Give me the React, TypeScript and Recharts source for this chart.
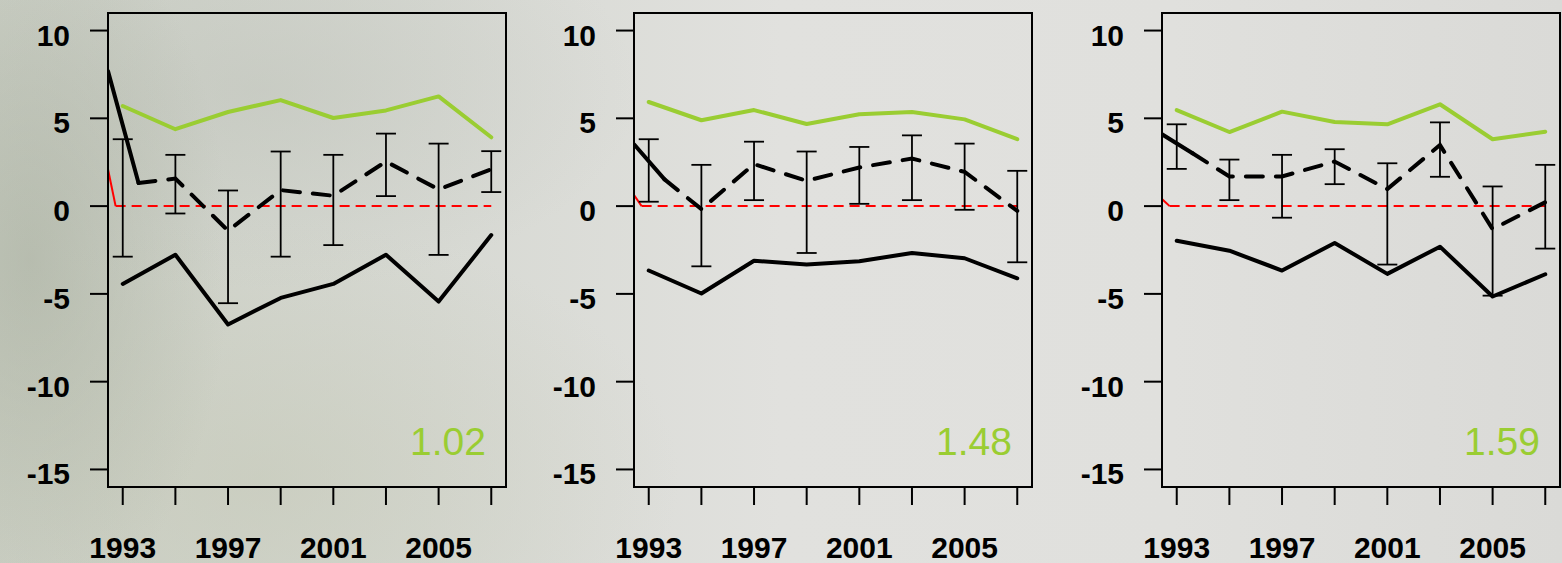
import React from "react"
import { LineChart, Line, XAxis, YAxis, ErrorBar, ReferenceArea } from "recharts"

const years = [1993, 1995, 1997, 1999, 2001, 2003, 2005, 2007]
const labeledYears = [1993, 1997, 2001, 2005]
const yTicks = [-15, -10, -5, 0, 5, 10]
const xDomain: [number, number] = [1992.44, 2007.56]
const yDomain: [number, number] = [-16, 11]

// the mean line starts off the left edge and its first point sits just after 1993
const meanYears = [1993.6, 1995, 1997, 1999, 2001, 2003, 2005, 2007]
const leadYear = 1992.44
const redYears = [1992.73, 2007]
const redValues = [0, 0]

// panel 1
const green1 = [5.7, 4.38, 5.36, 6.04, 5.02, 5.45, 6.25, 3.92]
const low1 = [-4.43, -2.77, -6.74, -5.23, -4.43, -2.77, -5.44, -1.65]
const mean1 = [1.32, 1.57, -1.4, 0.91, 0.59, 2.54, 0.95, 2.1]
const meanLead1 = 7.69
const errHi1 = [3.81, 2.92, 0.89, 3.11, 2.92, 4.13, 3.56, 3.13]
const errLo1 = [-2.88, -0.42, -5.53, -2.88, -2.22, 0.57, -2.78, 0.8]
const redLead1 = 2.1

// panel 2
const green2 = [5.93, 4.89, 5.47, 4.68, 5.23, 5.36, 4.94, 3.81]
const low2 = [-3.67, -4.98, -3.11, -3.32, -3.14, -2.67, -2.97, -4.11]
const mean2 = [1.52, -0.17, 2.39, 1.44, 2.2, 2.71, 1.95, -0.27]
const meanLead2 = 3.52
const errHi2 = [3.81, 2.35, 3.67, 3.11, 3.37, 4.03, 3.56, 2.01]
const errLo2 = [0.25, -3.43, 0.34, -2.67, 0.13, 0.34, -0.21, -3.2]
const redLead2 = 0.63

// panel 3
const green3 = [5.47, 4.22, 5.38, 4.79, 4.66, 5.8, 3.81, 4.24]
const low3 = [-1.97, -2.54, -3.67, -2.1, -3.86, -2.31, -5.15, -3.88]
const mean3 = [3.01, 1.69, 1.69, 2.54, 0.97, 3.48, -1.31, 0.22]
const meanLead3 = 4.09
const errHi3 = [4.66, 2.65, 2.92, 3.24, 2.44, 4.77, 1.12, 2.35]
const errLo3 = [2.12, 0.34, -0.66, 1.25, -3.33, 1.67, -5.1, -2.42]
const redLead3 = 0.4

const GREEN = "#9ACD32"
const FONT = "'Liberation Sans', Arial, sans-serif"
const LW = 4

interface PanelProps {
  left: number
  green: number[]
  low: number[]
  mean: number[]
  meanLead: number
  errHi: number[]
  errLo: number[]
  redLead: number
  label: string
}

const XTick = (props: any) => {
  const { x, y, payload } = props
  if (!labeledYears.includes(payload.value)) return <g />
  return (
    <text x={x} y={y + 53} textAnchor="middle" fontFamily={FONT} fontWeight="bold" fontSize={30} fill="#000">
      {payload.value}
    </text>
  )
}

const YTick = (props: any) => {
  const { x, y, payload } = props
  return (
    <text x={x} y={y + 15} textAnchor="end" fontFamily={FONT} fontWeight="bold" fontSize={30} fill="#000">
      {payload.value}
    </text>
  )
}

function Panel({ left, green, low, mean, meanLead, errHi, errLo, redLead, label }: PanelProps) {
  const greenData = years.map((year, i) => ({ year, v: green[i] }))
  const lowData = years.map((year, i) => ({ year, v: low[i] }))
  const meanData = meanYears.map((year, i) => ({ year, v: mean[i] }))
  const leadData = [
    { year: leadYear, v: meanLead },
    { year: meanYears[0], v: mean[0] },
  ]
  const redLeadData = [
    { year: leadYear, v: redLead },
    { year: redYears[0], v: redValues[0] },
  ]
  const redData = redYears.map((year, i) => ({ year, v: redValues[i] }))
  const errData = years.map((year, i) => {
    const mid = (errHi[i] + errLo[i]) / 2
    return { year, v: mid, err: [mid - errLo[i], errHi[i] - mid] }
  })

  return (
    <div style={{ position: "absolute", left, top: 0, width: 526, height: 563 }}>
      <LineChart width={526} height={563} margin={{ top: 13, right: 20, bottom: 0, left: 0 }}>
        <XAxis
          dataKey="year"
          type="number"
          domain={xDomain}
          allowDataOverflow
          ticks={years}
          interval={0}
          height={76}
          tickSize={18}
          tickMargin={0}
          axisLine={{ stroke: "#000", strokeWidth: 2 }}
          tickLine={{ stroke: "#000", strokeWidth: 2 }}
          tick={XTick}
        />
        <YAxis
          type="number"
          domain={yDomain}
          allowDataOverflow
          ticks={yTicks}
          interval={0}
          width={108}
          tickSize={18}
          tickMargin={20}
          axisLine={{ stroke: "#000", strokeWidth: 2 }}
          tickLine={{ stroke: "#000", strokeWidth: 2 }}
          tick={YTick}
        />
        <ReferenceArea
          x1={xDomain[0]}
          x2={xDomain[1]}
          y1={yDomain[0]}
          y2={yDomain[1]}
          fill="none"
          stroke="#000"
          strokeWidth={2}
          ifOverflow="visible"
        />
        <Line data={redLeadData} dataKey="v" stroke="#ff0000" strokeWidth={2} dot={false} activeDot={false} isAnimationActive={false} />
        <Line data={redData} dataKey="v" stroke="#ff0000" strokeWidth={2} strokeDasharray="10 6" dot={false} activeDot={false} isAnimationActive={false} />
        <Line data={errData} dataKey="v" stroke="none" dot={false} activeDot={false} isAnimationActive={false}>
          <ErrorBar dataKey="err" direction="y" width={10} stroke="#000" strokeWidth={1.8} isAnimationActive={false} />
        </Line>
        <Line data={greenData} dataKey="v" stroke={GREEN} strokeWidth={LW} strokeLinecap="round" strokeLinejoin="round" dot={false} activeDot={false} isAnimationActive={false} />
        <Line data={lowData} dataKey="v" stroke="#000" strokeWidth={LW} strokeLinecap="round" strokeLinejoin="round" dot={false} activeDot={false} isAnimationActive={false} />
        <Line data={leadData} dataKey="v" stroke="#000" strokeWidth={LW} strokeLinecap="round" dot={false} activeDot={false} isAnimationActive={false} />
        <Line data={meanData} dataKey="v" stroke="#000" strokeWidth={LW} strokeDasharray="17 13" strokeLinecap="round" dot={false} activeDot={false} isAnimationActive={false} />
      </LineChart>
      <svg width={526} height={563} style={{ position: "absolute", left: 0, top: 0, pointerEvents: "none" }}>
        <text x={486} y={455} textAnchor="end" fontFamily={FONT} fontSize={39} fill={GREEN}>
          {label}
        </text>
      </svg>
    </div>
  )
}

export default function App() {
  return (
    <div
      style={{
        position: "fixed",
        left: 0,
        top: 0,
        width: 1562,
        height: 563,
        overflow: "hidden",
        background:
          "radial-gradient(ellipse 200px 360px at 30px 260px, rgba(165,172,155,0.55), rgba(165,172,155,0) 100%)," +
          "radial-gradient(ellipse 420px 260px at 260px 480px, rgba(195,199,180,0.5), rgba(195,199,180,0) 100%)," +
          "radial-gradient(ellipse 380px 200px at 260px 90px, rgba(185,189,180,0.4), rgba(185,189,180,0) 100%)," +
          "linear-gradient(90deg, #ccd0c6 0%, #d7d9d3 28%, #e1e1de 50%, #e0e0dd 75%, #dadad7 100%)",
      }}
    >
      <Panel left={0} green={green1} low={low1} mean={mean1} meanLead={meanLead1} errHi={errHi1} errLo={errLo1} redLead={redLead1} label="1.02" />
      <Panel left={526} green={green2} low={low2} mean={mean2} meanLead={meanLead2} errHi={errHi2} errLo={errLo2} redLead={redLead2} label="1.48" />
      <Panel left={1054} green={green3} low={low3} mean={mean3} meanLead={meanLead3} errHi={errHi3} errLo={errLo3} redLead={redLead3} label="1.59" />
    </div>
  )
}
